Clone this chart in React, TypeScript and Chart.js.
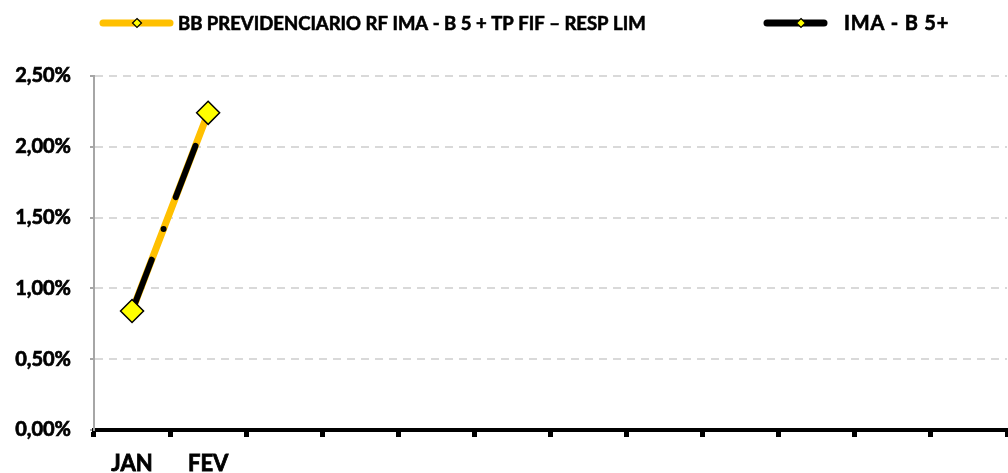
import { useEffect, useRef } from 'react';
import { Chart, registerables } from 'chart.js';

Chart.register(...registerables);

const CATEGORIES = ['JAN', 'FEV', '', '', '', '', '', '', '', '', '', ''];
const FUND_VALUES: (number | null)[] = [0.84, 2.24, null, null, null, null, null, null, null, null, null, null];
const BENCH_VALUES: (number | null)[] = [0.84, 2.24, null, null, null, null, null, null, null, null, null, null];
const SERIES_NAMES = ['BB PREVIDENCIARIO RF IMA - B 5 + TP FIF – RESP LIM', 'IMA - B 5+'];
const Y_MIN = 0;
const Y_MAX = 2.5;
const Y_STEP = 0.5;

const FUND_COLOR = '#FFC000';
const BENCH_COLOR = '#000000';
const MARKER_FILL = '#FFFF00';

function diamond(ctx: CanvasRenderingContext2D, x: number, y: number, r: number) {
  ctx.beginPath();
  ctx.moveTo(x, y - r);
  ctx.lineTo(x + r, y);
  ctx.lineTo(x, y + r);
  ctx.lineTo(x - r, y);
  ctx.closePath();
  ctx.fillStyle = MARKER_FILL;
  ctx.fill();
  ctx.lineWidth = 1.2;
  ctx.strokeStyle = '#000';
  ctx.stroke();
}

const legendPlugin = {
  id: 'customLegend',
  afterDraw(chart: any) {
    const ctx: CanvasRenderingContext2D = chart.ctx;
    ctx.save();
    const y = 23;
    const items = [
      { x1: 100, x2: 173, mx: 137, color: FUND_COLOR, tx: 178, text: SERIES_NAMES[0], size: 18.5, spacing: '0px' },
      { x1: 764, x2: 827, mx: 801, color: BENCH_COLOR, tx: 844, text: SERIES_NAMES[1], size: 20, spacing: '0.8px' },
    ];
    for (const it of items) {
      ctx.beginPath();
      ctx.lineCap = 'round';
      ctx.lineWidth = 7;
      ctx.strokeStyle = it.color;
      ctx.moveTo(it.x1 + 3, y);
      ctx.lineTo(it.x2 - 3, y);
      ctx.stroke();
      diamond(ctx, it.mx, y, 4.5);
      ctx.fillStyle = '#000';
      ctx.strokeStyle = '#000';
      ctx.lineWidth = 0.6;
      ctx.font = `bold ${it.size}px Lato`;
      (ctx as any).letterSpacing = it.spacing;
      ctx.textAlign = 'left';
      ctx.textBaseline = 'middle';
      ctx.fillText(it.text, it.tx, y + 1);
      ctx.strokeText(it.text, it.tx, y + 1);
    }
    ctx.restore();
  },
};

export default function App() {
  const ref = useRef<HTMLCanvasElement>(null);
  useEffect(() => {
    const chart = new Chart(ref.current as HTMLCanvasElement, {
      type: 'line',
      data: {
        labels: CATEGORIES,
        datasets: [
          {
            label: SERIES_NAMES[0] + ' (marcadores)',
            data: FUND_VALUES,
            showLine: false,
            pointStyle: 'rectRot',
            pointRadius: 11.5,
            pointBackgroundColor: MARKER_FILL,
            pointBorderColor: '#000',
            pointBorderWidth: 1.5,
            order: 0,
          },
          {
            label: SERIES_NAMES[1],
            data: BENCH_VALUES,
            borderColor: BENCH_COLOR,
            borderWidth: 6,
            borderDash: [55, 33, 0, 34],
            borderCapStyle: 'round',
            pointStyle: 'rectRot',
            pointRadius: 4,
            pointBackgroundColor: MARKER_FILL,
            pointBorderColor: '#000',
            pointBorderWidth: 1,
            tension: 0,
            order: 1,
          },
          {
            label: SERIES_NAMES[0],
            data: FUND_VALUES,
            borderColor: FUND_COLOR,
            borderWidth: 7,
            borderCapStyle: 'round',
            pointRadius: 0,
            tension: 0,
            order: 2,
          },
        ] as any,
      },
      options: {
        responsive: false,
        animation: false,
        layout: { padding: { top: 76, right: 7, left: 0, bottom: 0 } },
        plugins: { legend: { display: false }, tooltip: { enabled: false } },
        scales: {
          x: {
            offset: true,
            afterFit: (s: any) => { s.height = 43; },
            grid: {
              offset: true,
              drawOnChartArea: false,
              tickLength: 7,
              tickWidth: 5,
              tickColor: '#000',
              color: '#000',
            },
            border: { color: '#000', width: 4 },
            ticks: {
              autoSkip: false,
              maxRotation: 0,
              color: '#000',
              padding: 14,
              textStrokeColor: '#000',
              textStrokeWidth: 0.8,
              font: { family: 'Lato', weight: 'bold', size: 22 },
            },
          },
          y: {
            min: Y_MIN,
            max: Y_MAX,
            afterFit: (s: any) => { s.width = 94; },
            grid: {
              color: '#d9d9d9',
              lineWidth: 2,
              tickLength: 4,
              tickColor: '#a6a6a6',
              tickBorderDash: [],
            },
            border: { color: '#a6a6a6', width: 2, dash: [8, 6] },
            ticks: {
              stepSize: Y_STEP,
              color: '#000',
              padding: 19,
              textStrokeColor: '#000',
              textStrokeWidth: 0.7,
              font: { family: 'Lato', weight: 'bold', size: 20 },
              callback: (v: any) => Number(v).toFixed(2).replace('.', ',') + '%',
            },
          },
        },
      } as any,
      plugins: [legendPlugin],
    });
    return () => chart.destroy();
  }, []);
  return (
    <div style={{ position: 'absolute', left: 0, top: 0, width: 1008, height: 473, overflow: 'hidden', background: '#fff' }}>
      <canvas ref={ref} width={1020} height={473} style={{ display: 'block' }} />
    </div>
  );
}
